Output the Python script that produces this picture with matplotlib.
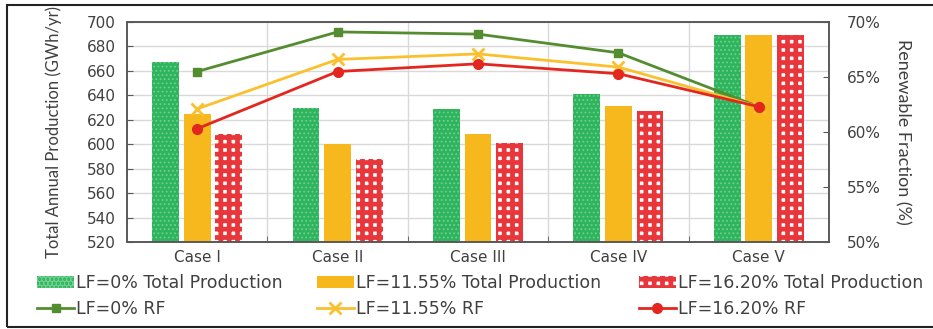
import numpy as np
import matplotlib.pyplot as plt
from matplotlib.patches import Rectangle

plt.rcParams['font.family'] = ['DejaVu Sans']
plt.rcParams['hatch.linewidth'] = 3.4

cases = ['Case I', 'Case II', 'Case III', 'Case IV', 'Case V']

# total annual production (GWh/yr)
prod_lf0 = [667, 630, 629, 641, 689]
prod_lf1155 = [625, 600, 608, 631, 689]
prod_lf1620 = [608, 588, 601, 627, 689]

# renewable fraction (%)
rf_lf0 = [65.5, 69.1, 68.9, 67.2, 62.3]
rf_lf1155 = [62.1, 66.6, 67.1, 65.9, 62.3]
rf_lf1620 = [60.3, 65.5, 66.2, 65.3, 62.3]

green = '#2db45c'
yellow = '#f6b81c'
red = '#e8363a'
line_green = '#548c30'
line_yellow = '#fbc02d'
line_red = '#e3261e'
txt = '#404040'

fig = plt.figure(figsize=(9.33, 3.29), dpi=100)
ax = fig.add_axes([0.1361, 0.2644, 0.7524, 0.6687])
ax2 = ax.twinx()

x = np.arange(len(cases))
w = 0.19
off = 0.225

b0 = ax.bar(x - off, np.array(prod_lf0) - 520, w, bottom=520, color=green,
            edgecolor='#6fcf8e', linewidth=0, hatch='....')
b1 = ax.bar(x, np.array(prod_lf1155) - 520, w, bottom=520, color=yellow,
            linewidth=0)
b2 = ax.bar(x + off, np.array(prod_lf1620) - 520, w, bottom=520, color='white',
            edgecolor=red, linewidth=0, hatch='++')
# thinner texture on the green bars if the per-patch setting exists
for p in b0:
    if hasattr(p, 'set_hatch_linewidth'):
        p.set_hatch_linewidth(0.8)

ax.set_ylim(520, 700)
ax.set_yticks(np.arange(520, 701, 20))
ax.set_xlim(-0.5, 4.5)
ax.set_xticks(x)
ax.set_xticklabels(cases)
ax.set_xticks(np.arange(0.5, 4, 1), minor=True)
ax.grid(axis='y', color='#d9d9d9', linewidth=1)
ax.grid(axis='x', which='minor', color='#d9d9d9', linewidth=1)
ax.set_axisbelow(True)
ax.tick_params(axis='x', which='major', length=0, labelsize=11, colors=txt, pad=6)
ax.tick_params(axis='x', which='minor', direction='in', length=4, color='#595959')
ax.tick_params(axis='y', direction='in', length=4, labelsize=11, colors=txt,
               color='#595959', pad=8)
ax.set_ylabel('Total Annual Production (GWh/yr)', fontsize=12, color=txt,
              family=['Lato', 'DejaVu Sans'])
ax.yaxis.set_label_coords(-0.093, 0.5)

l0, = ax2.plot(x, rf_lf0, color=line_green, lw=2, marker='s', ms=6)
l1, = ax2.plot(x, rf_lf1155, color=line_yellow, lw=2, marker='x', ms=8, mew=2)
l2, = ax2.plot(x, rf_lf1620, color=line_red, lw=2, marker='o', ms=7)
ax2.set_ylim(50, 70)
ax2.set_yticks(np.arange(50, 71, 5))
ax2.set_yticklabels([f'{v}%' for v in range(50, 71, 5)])
ax2.tick_params(axis='y', direction='in', length=4, labelsize=11, colors=txt,
                color='#595959', pad=13)
ax2.set_ylabel('Renewable Fraction (%)', fontsize=13, color=txt, rotation=270,
               va='bottom', family=['Lato', 'DejaVu Sans'])
ax2.yaxis.set_label_coords(1.094, 0.5)

for a in (ax, ax2):
    for s in a.spines.values():
        s.set_color('#595959')
        s.set_linewidth(1.2)

# legend: one column per load factor, bars on top row, lines below
labels = [('LF=0% Total Production', 'LF=0% RF'),
          ('LF=11.55% Total Production', 'LF=11.55% RF'),
          ('LF=16.20% Total Production', 'LF=16.20% RF')]
handles = [(b0, l0), (b1, l1), (b2, l2)]
xs = [0.040, 0.340, 0.685]
for (hb, hl), (tb, tl), xx in zip(handles, labels, xs):
    fig.legend([hb, hl], [tb, tl], loc='upper left', bbox_to_anchor=(xx, 0.167),
               frameon=False, fontsize=12.5, handlelength=2.1, handletextpad=0.12,
               labelspacing=0.45, borderaxespad=0, borderpad=0,
               labelcolor=txt)

# frame around the figure
fig.add_artist(Rectangle((7 / 933, 2 / 329), 1.0, 322 / 329, transform=fig.transFigure,
                         fill=False, edgecolor='#222222', linewidth=1.5))

fig.savefig('out.png', dpi=100)
